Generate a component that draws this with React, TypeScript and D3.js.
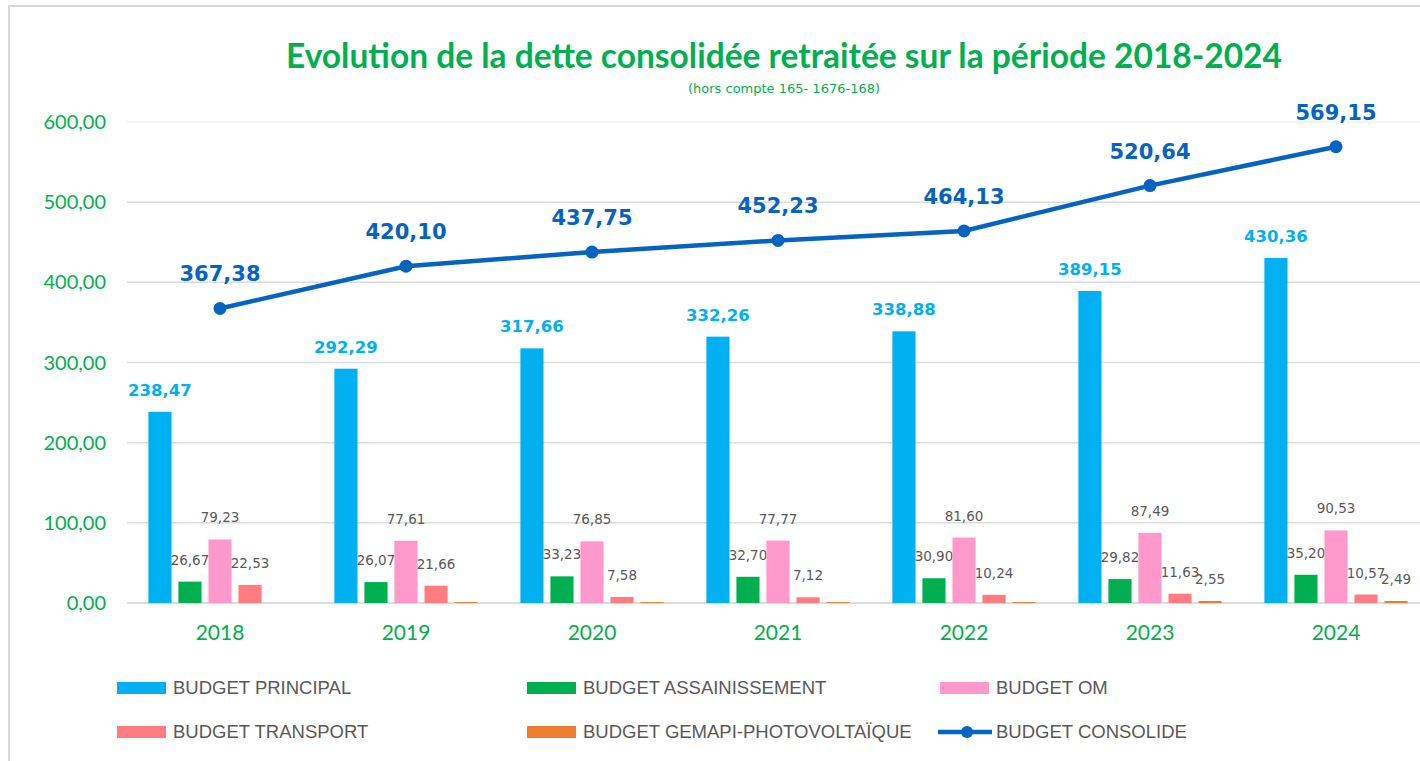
import React from "react";
import * as d3 from "d3";

const years = ["2018", "2019", "2020", "2021", "2022", "2023", "2024"];
const principal = [238.47, 292.29, 317.66, 332.26, 338.88, 389.15, 430.36];
const assainissement = [26.67, 26.07, 33.23, 32.7, 30.9, 29.82, 35.2];
const om = [79.23, 77.61, 76.85, 77.77, 81.6, 87.49, 90.53];
const transport = [22.53, 21.66, 7.58, 7.12, 10.24, 11.63, 10.57];
// 2019-2022 are tiny bars without visible labels in the source
const gemapi = [null, 1.2, 1.2, 1.2, 1.2, 2.55, 2.49];
const consolide = [367.38, 420.1, 437.75, 452.23, 464.13, 520.64, 569.15];
const yTicks = [0, 100, 200, 300, 400, 500, 600];

const barSeries = [
	{ key: "BUDGET PRINCIPAL", values: principal, color: "#00B0F0" },
	{ key: "BUDGET ASSAINISSEMENT", values: assainissement, color: "#00B050" },
	{ key: "BUDGET OM", values: om, color: "#FF99CC" },
	{ key: "BUDGET TRANSPORT", values: transport, color: "#FF7C80" },
	{ key: "BUDGET GEMAPI-PHOTOVOLTAÏQUE", values: gemapi, color: "#ED7D31" },
];

const W = 1420;
const H = 761;
const green = "#00B050";
const lineBlue = "#0563C1";
const fmt = (v: number) => v.toFixed(2).replace(".", ",");

export default function App() {
	const x0 = d3
		.scaleBand<string>()
		.domain(years)
		.range([127, 1429])
		.paddingInner(0.23)
		.paddingOuter(0.115);
	const x1 = d3
		.scaleBand<string>()
		.domain(barSeries.map((s) => s.key))
		.range([0, x0.bandwidth()])
		.paddingInner(0.23);
	const y = d3.scaleLinear().domain([0, 600]).range([603, 122]);

	const line = d3
		.line<number>()
		.x((_, i) => (x0(years[i]) as number) + x0.bandwidth() / 2)
		.y((d) => y(d));

	const legendRows = [
		[
			{ label: "BUDGET PRINCIPAL", color: "#00B0F0", x: 117 },
			{ label: "BUDGET ASSAINISSEMENT", color: "#00B050", x: 527 },
			{ label: "BUDGET OM", color: "#FF99CC", x: 940 },
		],
		[
			{ label: "BUDGET TRANSPORT", color: "#FF7C80", x: 117 },
			{ label: "BUDGET GEMAPI-PHOTOVOLTAÏQUE", color: "#ED7D31", x: 527 },
			{ label: "BUDGET CONSOLIDE", color: lineBlue, x: 940, line: true },
		],
	];

	return (
		<svg
			width={W}
			height={H}
			style={{ position: "absolute", left: 0, top: 0, background: "#fff" }}
		>
			<rect x={9} y={6} width={1430} height={H + 10} fill="#fff" stroke="#d9d9d9" strokeWidth={2} />

			<text
				x={784}
				y={68}
				textAnchor="middle"
				fill={green}
				fontFamily="Lato, 'Open Sans', sans-serif"
				fontWeight="bold"
				fontSize={33.5}
			>
				Evolution de la dette consolidée retraitée sur la période 2018-2024
			</text>
			<text
				x={784}
				y={93}
				textAnchor="middle"
				fill={green}
				fontFamily="'DejaVu Sans', sans-serif"
				fontSize={13}
			>
				(hors compte 165- 1676-168)
			</text>

			{yTicks.map((t) => (
				<g key={t}>
					<line
						x1={127}
						x2={W}
						y1={y(t)}
						y2={y(t)}
						stroke={t === 600 ? "#f0f0f0" : "#dcdcdc"}
						strokeWidth={t === 0 ? 2 : 1.5}
					/>
					<text
						x={106}
						y={y(t)}
						dy="0.35em"
						textAnchor="end"
						fill={green}
						fontFamily="Lato, sans-serif"
						fontSize={20}
					>
						{fmt(t)}
					</text>
				</g>
			))}

			{years.map((yr) => (
				<text
					key={yr}
					x={(x0(yr) as number) + x0.bandwidth() / 2}
					y={640}
					textAnchor="middle"
					fill={green}
					fontFamily="Lato, sans-serif"
					fontSize={21}
				>
					{yr}
				</text>
			))}

			{barSeries.map((s, si) =>
				s.values.map((v, i) => {
					if (v == null) return null;
					const bx = (x0(years[i]) as number) + (x1(s.key) as number);
					const cx = bx + x1.bandwidth() / 2;
					const main = si === 0;
					const showLabel = v >= 2;
					return (
						<g key={s.key + i}>
							<rect
								x={bx}
								y={y(v)}
								width={x1.bandwidth()}
								height={y(0) - y(v)}
								fill={s.color}
							/>
							{showLabel && (
								<text
									x={cx}
									y={y(v) - (main ? 16 : 17)}
									textAnchor="middle"
									fill={main ? "#00B0F0" : "#595959"}
									fontFamily="'DejaVu Sans', sans-serif"
									fontWeight={main ? "bold" : "normal"}
									fontSize={main ? 16.5 : 13.5}
								>
									{fmt(v)}
								</text>
							)}
						</g>
					);
				})
			)}

			<path d={line(consolide) as string} fill="none" stroke={lineBlue} strokeWidth={4.5} />
			{consolide.map((v, i) => {
				const cx = (x0(years[i]) as number) + x0.bandwidth() / 2;
				return (
					<g key={"c" + i}>
						<circle cx={cx} cy={y(v)} r={6.5} fill={lineBlue} />
						<text
							x={cx}
							y={y(v) - 27}
							textAnchor="middle"
							fill={lineBlue}
							fontFamily="'DejaVu Sans', sans-serif"
							fontWeight="bold"
							fontSize={21}
						>
							{fmt(v)}
						</text>
					</g>
				);
			})}

			{legendRows.map((row, ri) =>
				row.map((item) => {
					const ly = 688 + ri * 44;
					return (
						<g key={item.label}>
							{item.line ? (
								<>
									<line x1={item.x - 2} x2={item.x + 52} y1={ly} y2={ly} stroke={item.color} strokeWidth={4.5} />
									<circle cx={item.x + 27} cy={ly} r={6} fill={item.color} />
								</>
							) : (
								<rect x={item.x} y={ly - 6} width={49} height={12} fill={item.color} />
							)}
							<text
								x={item.x + 56}
								y={ly}
								dy="0.35em"
								fill="#595959"
								fontFamily="'Liberation Sans', Arial, sans-serif"
								fontSize={18.5}
							>
								{item.label}
							</text>
						</g>
					);
				})
			)}
		</svg>
	);
}
